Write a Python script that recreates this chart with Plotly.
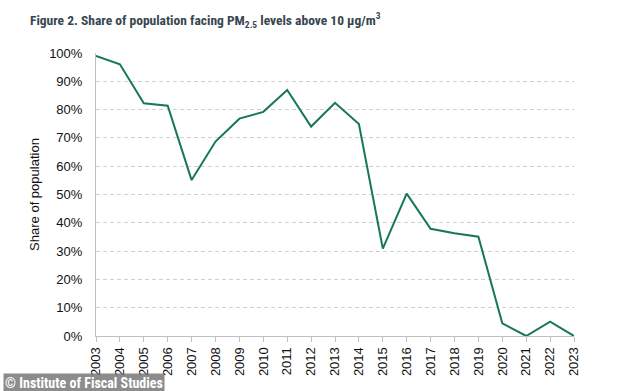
import plotly.graph_objects as go

years = list(range(2003, 2024))
share = [99.0, 96.0, 82.2, 81.4, 55.1, 68.7, 76.8, 79.2, 86.9, 74.0, 82.4, 74.9,
         30.9, 50.3, 37.9, 36.3, 35.1, 4.5, 0.0, 5.1, 0.0]
y_ticks = list(range(0, 101, 10))
y_tick_labels = [f"{v}%" for v in y_ticks]

fig = go.Figure()
fig.add_trace(go.Scatter(
    x=years, y=share, mode="lines",
    line=dict(color="#17775a", width=2),
    cliponaxis=False, showlegend=False,
))

fig.update_layout(
    width=634, height=391,
    margin=dict(l=96, r=60, t=53, b=55, autoexpand=False),
    plot_bgcolor="white", paper_bgcolor="white",
    font=dict(family="Liberation Sans, Arial, sans-serif", size=13, color="#111111"),
    title=dict(
        text="<b>Figure 2. Share of population facing PM<sub>2.5</sub> levels above 10 µg/m<sup>3</sup></b>",
        x=30 / 634, y=1 - 20 / 391, xref="container", yref="container",
        xanchor="left", yanchor="middle",
        font=dict(family="Roboto Condensed, Liberation Sans, sans-serif", size=13.5, color="#37474f"),
    ),
    xaxis=dict(
        range=[2003, 2023], tickmode="array", tickvals=years,
        ticktext=[str(y) for y in years], tickangle=-90,
        showgrid=False, showline=True, linecolor="#bfbfbf", linewidth=1,
        ticks="outside", ticklen=5, tickcolor="#bfbfbf", zeroline=False,
        tickfont=dict(size=13, color="#111111"), automargin=False,
    ),
    yaxis=dict(
        range=[0, 100], tickmode="array", tickvals=y_ticks, ticktext=y_tick_labels,
        showgrid=True, gridcolor="#cfcfcf", griddash="4px,3px", gridwidth=1,
        showline=True, linecolor="#bfbfbf", linewidth=1, zeroline=False,
        ticks="", tickfont=dict(size=13, color="#111111"), automargin=False,
        ticklabelstandoff=10,
        title=dict(text="Share of population", font=dict(size=13, color="#111111"), standoff=6),
    ),
)

fig.add_annotation(
    x=0, y=0, xref="paper", yref="paper", xanchor="left", yanchor="bottom",
    text="<b>© Institute of Fiscal Studies</b>", showarrow=False,
    bgcolor="rgba(120,120,120,0.85)", borderpad=1,
    font=dict(family="Roboto Condensed, Liberation Sans, sans-serif", size=14, color="white"),
)
fig.layout.annotations[0].update(x=-93 / 478, y=-57 / 283)

fig.write_html("out.html", config={"displayModeBar": False},
               post_script="document.body.style.margin='0';")
